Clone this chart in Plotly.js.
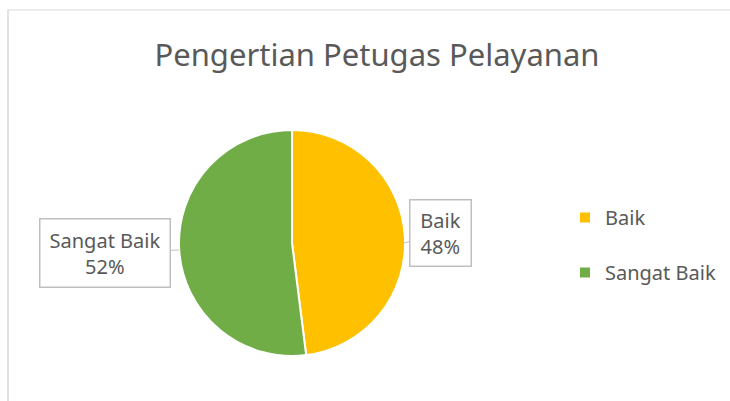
<!DOCTYPE html>
<html>
<head>
<meta charset="utf-8">
<script src="https://cdn.plot.ly/plotly-3.0.1.min.js"></script>
<style>
html,body{margin:0;padding:0;background:#fff;}
#chart{width:730px;height:401px;}
</style>
</head>
<body>
<div id="chart"></div>
<script>
const chartTitle = "Pengertian Petugas Pelayanan";
const categories = ["Baik", "Sangat Baik"];
const values = [48, 52];
const colors = ["#FFC000", "#70AD47"];

const total = values.reduce((a, b) => a + b, 0);
const pct = values.map(v => Math.round(v / total * 100) + "%");

const FONT = "Noto Sans, Open Sans, sans-serif";
const TXT = "#595959";

const trace = {
  type: "pie",
  labels: categories.map(c => c + "<br> "),
  values: values,
  sort: false,
  direction: "clockwise",
  rotation: 0,
  marker: {colors: colors, line: {color: "#ffffff", width: 2}},
  textinfo: "none",
  hoverinfo: "label+percent",
  domain: {x: [0.2452, 0.5548], y: [0.1122, 0.6758]}
};

// callout boxes (positions are layout, text comes from data arrays)
const callouts = [
  {tipX: 404 / 730, tipY: 1 - 243 / 401, ax: 37, ay: -10, w: 58, h: 63},
  {tipX: 179 / 730, tipY: 1 - 250 / 401, ax: -74, ay: 3, w: 127, h: 65}
];
const annotations = categories.map((c, i) => ({
  x: callouts[i].tipX, y: callouts[i].tipY, xref: "paper", yref: "paper",
  text: c + "<br>" + pct[i],
  showarrow: true, arrowhead: 0, arrowwidth: 1, arrowcolor: "#bfbfbf",
  ax: callouts[i].ax, ay: callouts[i].ay,
  width: callouts[i].w, height: callouts[i].h,
  bordercolor: "#bfbfbf", borderwidth: 1.5, bgcolor: "#ffffff",
  font: {family: FONT, size: 20, color: TXT}, align: "center"
}));

const layout = {
  width: 730, height: 401,
  margin: {l: 0, r: 0, t: 0, b: 0},
  paper_bgcolor: "#ffffff",
  title: {text: chartTitle, x: 377 / 730, xanchor: "center", y: 1 - 55 / 401, yanchor: "middle",
          font: {family: FONT, size: 31, color: TXT}},
  showlegend: true,
  legend: {x: 565 / 730, y: 1 - 198 / 401, xanchor: "left", yanchor: "top", valign: "top",
           font: {family: FONT, size: 20, color: TXT}, bgcolor: "rgba(0,0,0,0)", itemwidth: 30},
  annotations: annotations,
  shapes: [
    {type: "line", xref: "paper", yref: "paper", x0: 8 / 730, x1: 1, y0: 1 - 10 / 401, y1: 1 - 10 / 401,
     line: {color: "#d9d9d9", width: 1}},
    {type: "line", xref: "paper", yref: "paper", x0: 8 / 730, x1: 8 / 730, y0: 0, y1: 1 - 10 / 401,
     line: {color: "#d9d9d9", width: 1.5}}
  ]
};

Plotly.newPlot("chart", [trace], layout, {displayModeBar: false, staticPlot: true});
</script>
</body>
</html>
